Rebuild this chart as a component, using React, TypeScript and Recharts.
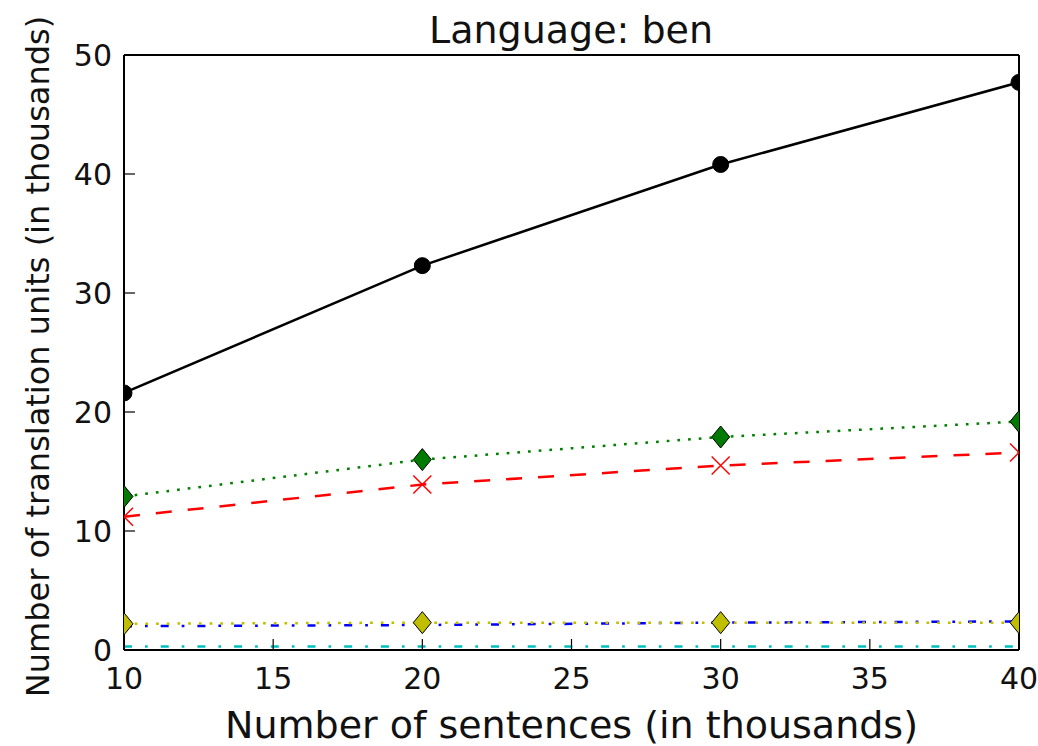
import React from 'react'
import { LineChart, Line, XAxis, YAxis } from 'recharts'

const sentences = [10, 20, 30, 40]
const allUnits = [21.6, 32.3, 40.8, 47.7]
const greenUnits = [12.9, 16.0, 17.9, 19.2]
const redUnits = [11.2, 13.9, 15.5, 16.6]
const cyanUnits = [0.3, 0.3, 0.3, 0.3]
const blueUnits = [2.0, 2.1, 2.3, 2.4]
const yellowUnits = [2.2, 2.3, 2.3, 2.3]

const xTicks = [10, 15, 20, 25, 30, 35, 40]
const yTicks = [0, 10, 20, 30, 40, 50]

const data = sentences.map((s, i) => ({
    s,
    all: allUnits[i],
    green: greenUnits[i],
    red: redUnits[i],
    cyan: cyanUnits[i],
    blue: blueUnits[i],
    yellow: yellowUnits[i],
}))

const W = 1038
const H = 746
const M = { top: 54, right: 18, bottom: 0, left: 0 }
const X_AXIS_H = 96
const Y_AXIS_W = 124
// plot box, used only to clip the markers like matplotlib does
const PLOT = {
    x: M.left + Y_AXIS_W,
    y: M.top + 1,
    w: W - M.left - Y_AXIS_W - M.right - 1,
    h: H - M.top - 1 - M.bottom - X_AXIS_H,
}

const FONT = 'DejaVu Sans, Bitstream Vera Sans, sans-serif'
const tickStyle = { fontFamily: FONT, fontSize: 30, fill: '#111' }

const circleDot = (p: any) => (
    <circle key={p.index} cx={p.cx} cy={p.cy} r={8} fill="#000" stroke="#000" clipPath="url(#plotClip)" />
)

const diamond = (fill: string) => (p: any) => (
    <path
        key={p.index}
        d={`M${p.cx},${p.cy - 11} L${p.cx + 9},${p.cy} L${p.cx},${p.cy + 11} L${p.cx - 9},${p.cy} Z`}
        fill={fill}
        stroke="#000"
        strokeWidth={1}
        clipPath="url(#plotClip)"
    />
)

const crossDot = (p: any) => (
    <path
        key={p.index}
        d={`M${p.cx - 9},${p.cy - 9} L${p.cx + 9},${p.cy + 9} M${p.cx - 9},${p.cy + 9} L${p.cx + 9},${p.cy - 9}`}
        stroke="#ff0000"
        strokeWidth={1.5}
        fill="none"
        clipPath="url(#plotClip)"
    />
)

const axisLine = { stroke: '#000', strokeWidth: 2 }
const tickLine = { stroke: '#000', strokeWidth: 1.2 }

export default function App() {
    return (
        <div style={{ position: 'absolute', left: 0, top: 0 }}>
            <LineChart width={W} height={H} data={data} margin={M}>
                <defs>
                    <clipPath id="plotClip">
                        <rect x={PLOT.x} y={PLOT.y} width={PLOT.w} height={PLOT.h} />
                    </clipPath>
                </defs>
                <text x={571} y={43} textAnchor="middle" style={{ fontFamily: FONT, fontSize: 38, fill: '#111' }}>
                    Language: ben
                </text>
                <XAxis
                    dataKey="s"
                    type="number"
                    domain={[10, 40]}
                    ticks={xTicks}
                    allowDataOverflow
                    height={X_AXIS_H}
                    tickSize={-11}
                    tickMargin={29}
                    tick={tickStyle}
                    axisLine={axisLine}
                    tickLine={tickLine}
                    label={{
                        content: (props: any) => {
                            const vb = props.viewBox
                            return (
                                <text x={vb.x + vb.width / 2} y={738} textAnchor="middle" style={{ fontFamily: FONT, fontSize: 38, fill: '#111' }}>
                                    Number of sentences (in thousands)
                                </text>
                            )
                        },
                    }}
                />
                <XAxis
                    xAxisId="top"
                    orientation="top"
                    dataKey="s"
                    type="number"
                    domain={[10, 40]}
                    ticks={xTicks}
                    height={1}
                    tickSize={-11}
                    tick={false}
                    axisLine={axisLine}
                    tickLine={tickLine}
                />
                <YAxis
                    type="number"
                    domain={[0, 50]}
                    ticks={yTicks}
                    allowDataOverflow
                    width={Y_AXIS_W}
                    tickSize={-11}
                    tickMargin={23}
                    tick={tickStyle}
                    axisLine={axisLine}
                    tickLine={tickLine}
                    label={{
                        content: (props: any) => {
                            const vb = props.viewBox
                            const cy = vb.y + vb.height / 2 + 4
                            return (
                                <text x={49} y={cy} transform={`rotate(-90 49 ${cy})`} textAnchor="middle" style={{ fontFamily: FONT, fontSize: 32, fill: '#111' }}>
                                    Number of translation units (in thousands)
                                </text>
                            )
                        },
                    }}
                />
                <YAxis
                    yAxisId="right"
                    orientation="right"
                    type="number"
                    domain={[0, 50]}
                    ticks={yTicks}
                    width={1}
                    tickSize={-11}
                    tick={false}
                    axisLine={axisLine}
                    tickLine={tickLine}
                />
                <Line dataKey="all" stroke="#000" strokeWidth={2.5} dot={circleDot} isAnimationActive={false} />
                <Line dataKey="green" stroke="#008000" strokeWidth={2.5} strokeDasharray="2.7 8" dot={diamond('#007a00')} isAnimationActive={false} />
                <Line dataKey="red" stroke="#ff0000" strokeWidth={2.5} strokeDasharray="16 16" dot={crossDot} isAnimationActive={false} />
                <Line dataKey="cyan" stroke="#00bfbf" strokeWidth={2.5} strokeDasharray="8 13 2.7 13" dot={false} isAnimationActive={false} />
                <Line dataKey="blue" stroke="#0000ff" strokeWidth={2.5} strokeDasharray="8 13 2.7 13" dot={false} isAnimationActive={false} />
                <Line dataKey="yellow" stroke="#bfbf00" strokeWidth={2.5} strokeDasharray="2.7 8" dot={diamond('#bfbf00')} isAnimationActive={false} />
            </LineChart>
        </div>
    )
}
